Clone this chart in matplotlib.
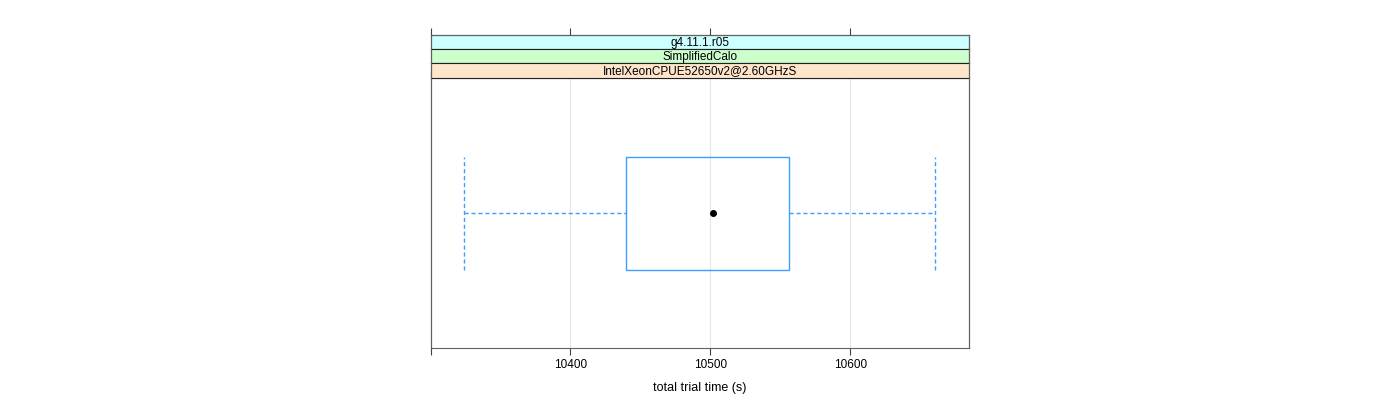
import matplotlib
matplotlib.use("Agg")
import matplotlib.pyplot as plt
from matplotlib.patches import Rectangle

plt.rcParams['font.family'] = ['Liberation Sans', 'DejaVu Sans']

# strip labels, top to bottom
strip_labels = ['g4.11.1.r05', 'SimplifiedCalo', 'IntelXeonCPUE52650v2@2.60GHzS']
strip_colors = ['#ccffff', '#ccffcc', '#ffe5cc']

# five-number summary of total trial time (s)
whisker_low = 10324
q1 = 10440
median = 10502
q3 = 10556
whisker_high = 10661

xticks = [10300, 10400, 10500, 10600]
xticklabels = ['', '10400', '10500', '10600']
xlim = (10300, 10685)

fig = plt.figure(figsize=(14, 4), dpi=100)
W, H = 1400, 400

def box(l, t, r, b):
    return [l / W, 1 - b / H, (r - l) / W, (b - t) / H]

ax = fig.add_axes(box(430.5, 78.3, 969, 348))
ax.set_xlim(*xlim)
ax.set_ylim(0, 1)

blue = '#3d9eff'
y0, y1 = 0.29, 0.71
ax.add_patch(Rectangle((q1, y0), q3 - q1, y1 - y0, fill=False, edgecolor=blue, lw=1.0))
ax.plot([whisker_low, q1], [0.5, 0.5], color=blue, ls=(0, (3, 2)), lw=1.0)
ax.plot([q3, whisker_high], [0.5, 0.5], color=blue, ls=(0, (3, 2)), lw=1.0)
ax.plot([whisker_low, whisker_low], [y0, y1], color=blue, ls=(0, (3, 2)), lw=1.0)
ax.plot([whisker_high, whisker_high], [y0, y1], color=blue, ls=(0, (3, 2)), lw=1.0)
ax.plot([median], [0.5], 'o', color='black', ms=4)

for t in xticks:
    ax.axvline(t, color='#e6e6e6', lw=0.8, zorder=0)

ax.set_xticks(xticks)
ax.set_xticklabels(xticklabels, fontsize=8.5)
ax.set_yticks([])
ax.tick_params(axis='x', direction='out', length=5, width=0.8, color='#404040',
               top=True, pad=3)
for s in ax.spines.values():
    s.set_color('#606060')
    s.set_linewidth(0.8)
ax.set_xlabel('total trial time (s)', fontsize=9, labelpad=8)

# strips
edges = [34.7, 49.3, 63.3, 78.3]
for i, (lab, col) in enumerate(zip(strip_labels, strip_colors)):
    sa = fig.add_axes(box(430.5, edges[i], 969, edges[i + 1]))
    sa.set_facecolor(col)
    sa.set_xticks([])
    sa.set_yticks([])
    for s in sa.spines.values():
        s.set_color('#202020')
        s.set_linewidth(0.8)
    sa.text(0.5, 0.45, lab, ha='center', va='center', fontsize=8.5,
            transform=sa.transAxes)

# top ticks above strips
ta = fig.add_axes(box(430.5, 34.7, 969, 348), facecolor='none')
ta.set_xlim(*xlim)
ta.set_xticks(xticks)
ta.set_yticks([])
ta.tick_params(axis='x', direction='out', length=5, width=0.8, color='#404040',
               top=True, bottom=False, labeltop=False, labelbottom=False)
for name, s in ta.spines.items():
    s.set_visible(name in ('left', 'right', 'top'))
    s.set_color('#606060')
    s.set_linewidth(0.8)

fig.savefig('out.png', dpi=100)
